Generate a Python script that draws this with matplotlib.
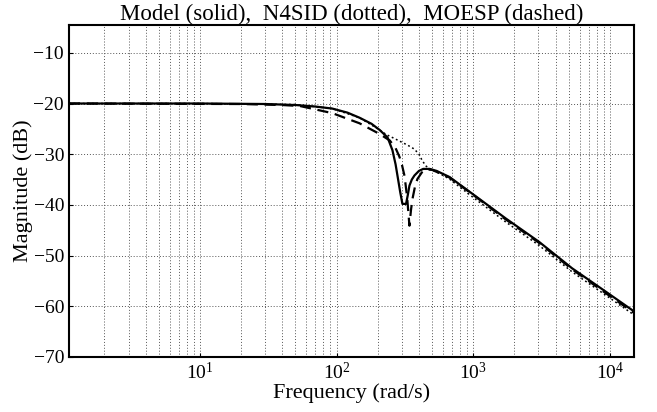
import matplotlib
matplotlib.use("Agg")
import matplotlib.pyplot as plt
from matplotlib.ticker import LogLocator, NullFormatter

plt.rcParams['font.family'] = ['Liberation Serif', 'DejaVu Serif']
plt.rcParams['mathtext.fontset'] = 'custom'
plt.rcParams['mathtext.rm'] = 'Liberation Serif'

title = "Model (solid),  N4SID (dotted),  MOESP (dashed)"
xlabel = "Frequency (rad/s)"
ylabel = "Magnitude (dB)"

# Model (solid)
model_freq = [1.1, 10, 30, 50, 70, 93, 120, 147, 180, 206, 236, 256, 270, 279, 292, 303,
              322, 332, 341, 355, 371, 400, 430, 480, 540, 670, 984, 1734, 3034, 5283, 9306, 15000]
model_db = [-20.0, -20.0, -20.1, -20.3, -20.6, -21.0, -21.8, -22.8, -24.0, -25.2, -26.7, -29.2,
            -32.0, -34.3, -37.5, -39.8, -39.8, -38.0, -36.2, -35.0, -34.2, -33.3, -32.9, -32.9,
            -33.3, -34.5, -37.8, -42.7, -47.3, -52.5, -57.1, -61.0]

# MOESP (dashed)
moesp_freq = [1.1, 20, 40, 54, 93, 147, 206, 245, 270, 288, 300, 314, 328, 341, 350, 359,
              375, 390, 420, 454, 500, 670, 984, 1734, 3034, 5283, 9306, 15000]
moesp_db = [-20.0, -20.1, -20.3, -20.5, -21.9, -23.9, -26.0, -27.3, -28.8, -30.5, -32.0, -34.3,
            -38.5, -44.1, -41.0, -38.8, -36.3, -34.9, -33.6, -33.0, -33.1, -34.6, -37.9, -42.9,
            -47.5, -52.7, -57.4, -61.3]

# N4SID (dotted)
n4sid_freq = [1.1, 10, 50, 93, 147, 206, 230, 260, 288, 330, 371, 400, 424, 450, 477, 540,
              670, 984, 1734, 3034, 5283, 9306, 15000]
n4sid_db = [-20.0, -20.0, -20.2, -21.0, -22.8, -25.2, -26.1, -26.8, -27.4, -28.2, -29.0, -30.0,
            -31.3, -32.3, -32.9, -33.5, -34.9, -38.4, -43.4, -48.0, -53.2, -57.8, -61.7]

yticks = [-70, -60, -50, -40, -30, -20, -10]

fig = plt.figure(figsize=(6.57, 4.12), dpi=100)
ax = fig.add_axes([0.105, 0.1335, 0.86, 0.806])

ax.plot(n4sid_freq, n4sid_db, color='black', linestyle=(0, (1.2, 1.8)), linewidth=1.1)
ax.plot(moesp_freq, moesp_db, color='black', linestyle=(0, (5, 3)), linewidth=1.6)
ax.plot(model_freq, model_db, color='black', linestyle='-', linewidth=1.6)

ax.set_xscale('log')
ax.set_xlim(1.1, 15000)
ax.set_ylim(-70, -4.5)
ax.set_yticks(yticks)
ax.set_yticklabels([f"\u2212{abs(v)}" for v in yticks])
ax.xaxis.set_major_locator(LogLocator(base=10, numticks=10))
ax.xaxis.set_minor_locator(LogLocator(base=10, subs=range(2, 10), numticks=20))
ax.xaxis.set_minor_formatter(NullFormatter())

ax.grid(True, which='both', axis='x', color='#555555', linestyle=(0, (1, 2)), linewidth=0.7)
ax.grid(True, which='major', axis='y', color='#555555', linestyle=(0, (1, 2)), linewidth=0.7)

for s in ax.spines.values():
    s.set_linewidth(1.5)
ax.tick_params(which='both', direction='in', length=3, labelsize=14)
ax.tick_params(which='minor', length=0)

ax.set_title(title, fontsize=16.5, pad=3)
ax.set_xlabel(xlabel, fontsize=16, labelpad=0)
ax.set_ylabel(ylabel, fontsize=16, labelpad=0)

fig.savefig("out.png", dpi=100)
